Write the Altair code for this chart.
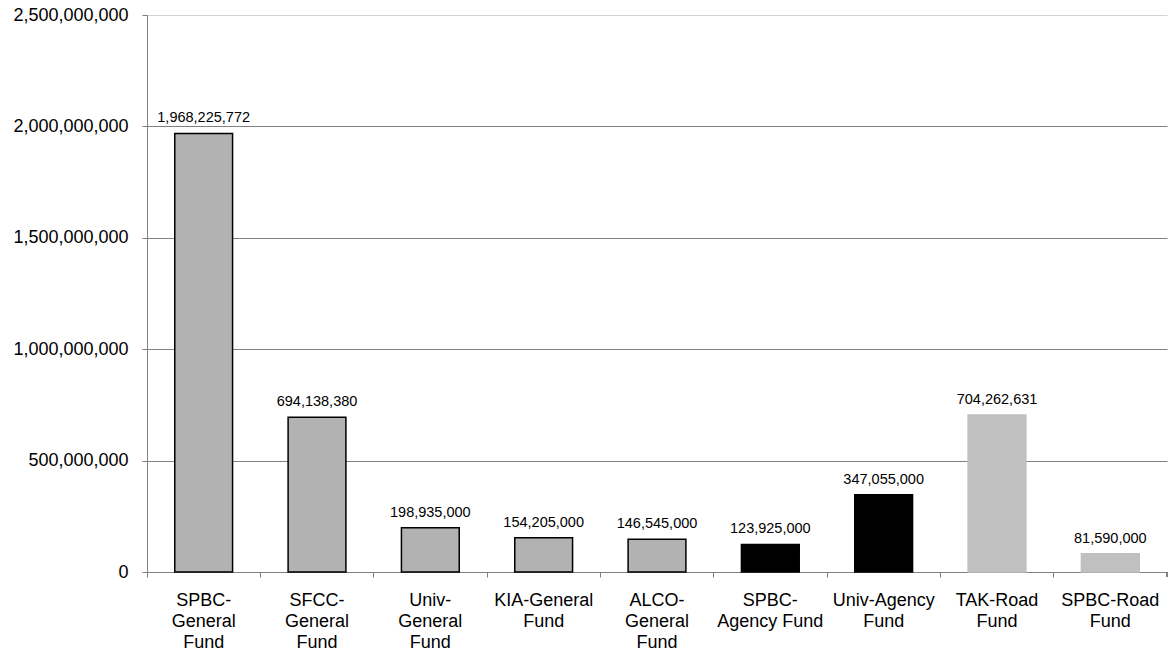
import altair as alt
import pandas as pd

# Fund names, wrapped axis labels and fund totals
funds = [
    "SPBC-General Fund", "SFCC-General Fund", "Univ-General Fund",
    "KIA-General Fund", "ALCO-General Fund", "SPBC-Agency Fund",
    "Univ-Agency Fund", "TAK-Road Fund", "SPBC-Road Fund",
]
wrapped = [
    "SPBC-\nGeneral\nFund", "SFCC-\nGeneral\nFund", "Univ-\nGeneral\nFund",
    "KIA-General\nFund", "ALCO-\nGeneral\nFund", "SPBC-\nAgency Fund",
    "Univ-Agency\nFund", "TAK-Road\nFund", "SPBC-Road\nFund",
]
amounts = [
    1968225772, 694138380, 198935000, 154205000, 146545000,
    123925000, 347055000, 704262631, 81590000,
]
fund_type = ["General"] * 5 + ["Agency"] * 2 + ["Road"] * 2
y_ticks = [0, 500000000, 1000000000, 1500000000, 2000000000, 2500000000]

df = pd.DataFrame({"fund": funds, "label": wrapped, "amount": amounts, "type": fund_type})

FONT = "Liberation Sans"

x_enc = alt.X(
    "label:N",
    sort=None,
    title=None,
    scale=alt.Scale(paddingInner=0, paddingOuter=0),
    axis=alt.Axis(
        labelExpr="split(datum.label, '\\n')",
        labelAngle=0,
        labelFont=FONT,
        labelFontSize=18,
        labelColor="#000000",
        labelLineHeight=21,
        labelBaseline="top",
        labelPadding=14,
        bandPosition=0,
        ticks=True,
        tickSize=5,
        tickColor="#808080",
        domainColor="#808080",
        grid=False,
    ),
)

y_enc = alt.Y(
    "amount:Q",
    title=None,
    scale=alt.Scale(domain=[0, 2500000000], nice=False),
    axis=alt.Axis(
        values=y_ticks,
        format=",d",
        labelFont=FONT,
        labelFontSize=18,
        labelColor="#000000",
        labelPadding=14,
        tickSize=5,
        tickColor="#808080",
        domainColor="#808080",
        grid=True,
        gridColor=alt.ConditionalAxisColor(
            condition={"test": "datum.value === 2500000000", "value": "#d4d4d4"},
            value="#808080",
        ),
        gridWidth=1,
    ),
)

color_scale = alt.Scale(domain=["General", "Agency", "Road"], range=["#b2b2b2", "#000000", "#c0c0c0"])
stroke_scale = alt.Scale(domain=["General", "Agency", "Road"], range=["#000000", "#000000", "#c0c0c0"])

bars = alt.Chart(df).mark_bar(width={"band": 0.51}, strokeWidth=1.5).encode(
    x=x_enc,
    y=y_enc,
    color=alt.Color("type:N", scale=color_scale, legend=None),
    stroke=alt.Stroke("type:N", scale=stroke_scale, legend=None),
)

values = alt.Chart(df).mark_text(
    font=FONT, fontSize=14.5, color="#000000", baseline="alphabetic", dy=-11
).encode(
    x=alt.X("label:N", sort=None, bandPosition=0.5),
    y="amount:Q",
    text=alt.Text("amount:Q", format=",d"),
)

# closing tick at the right end of the category axis
end_tick = alt.Chart(df).mark_rule(color="#808080").encode(
    x=alt.value(1020), y=alt.value(557), y2=alt.value(562)
)

chart = alt.layer(bars, values, end_tick).properties(
    width=1020,
    height=557,
    padding={"left": 147, "top": 15, "right": 4, "bottom": 82},
    autosize=alt.AutoSizeParams(type="none"),
    background="#ffffff",
).configure_view(stroke=None)

chart.save("out.html", embed_options={"renderer": "svg", "actions": False})
